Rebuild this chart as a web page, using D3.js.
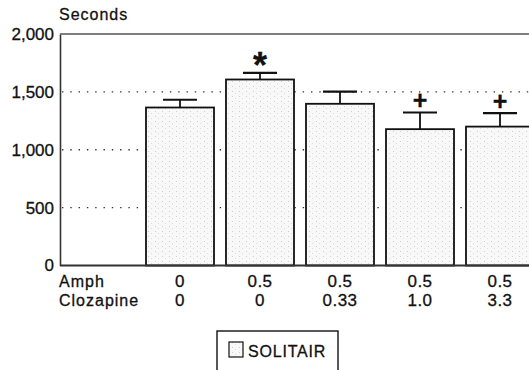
<!DOCTYPE html>
<html>
<head>
<meta charset="utf-8">
<script src="https://cdn.jsdelivr.net/npm/d3@7"></script>
<style>
	body { margin: 0; background: #fff; }
	svg { display: block; font-family: "Liberation Sans", Arial, sans-serif; }
	svg text { stroke: #111; stroke-width: 0.3px; }
</style>
</head>
<body>
<div id="chart"></div>
<script>
// values
const amph = ["0", "0.5", "0.5", "0.5", "0.5"];
const clozapine = ["0", "0", "0.33", "1.0", "3.3"];
const means = [1365, 1607, 1397, 1178, 1200];
const sems = [67, 58, 106, 144, 117];
const marks = ["", "*", "", "+", "+"];
const yTicks = [0, 500, 1000, 1500, 2000];
const seriesName = "SOLITAIR";

const width = 529;
const height = 370;

const svg = d3
	.select("#chart")
	.append("svg")
	.attr("width", width)
	.attr("height", height)
	.attr("viewBox", [0, 0, width, height]);

// light stipple for the bars
const pat = svg
	.append("defs")
	.append("pattern")
	.attr("id", "stipple")
	.attr("patternUnits", "userSpaceOnUse")
	.attr("width", 7)
	.attr("height", 5);
pat.append("rect").attr("width", 7).attr("height", 5).attr("fill", "#f8f8f8");
pat.append("rect").attr("x", 1).attr("y", 1).attr("width", 1).attr("height", 1).attr("fill", "#cfcfcf");
pat.append("rect").attr("x", 4).attr("y", 3).attr("width", 1).attr("height", 1).attr("fill", "#dedede");

const xScale = d3
	.scaleBand()
	.domain(d3.range(means.length + 1))
	.range([60, 540])
	.paddingInner(0.15)
	.paddingOuter(0.075);

const yScale = d3.scaleLinear().domain([0, 2000]).range([265.5, 34]);

// dotted grid
svg
	.append("g")
	.selectAll("line")
	.data(yTicks.filter((d) => d > 0 && d < 2000))
	.join("line")
	.attr("x1", 62)
	.attr("x2", width)
	.attr("y1", (d) => yScale(d))
	.attr("y2", (d) => yScale(d))
	.attr("stroke", "#333")
	.attr("stroke-width", 1.4)
	.attr("stroke-dasharray", "1.4,6.9");

// y axis
const yAxis = svg
	.append("g")
	.attr("transform", "translate(60,0)")
	.call(
		d3
			.axisLeft(yScale)
			.tickValues(yTicks)
			.tickSize(0)
			.tickPadding(6)
			.tickFormat(d3.format(","))
	);
yAxis.select(".domain").attr("stroke", "#333").attr("stroke-width", 1.6);
yAxis
	.selectAll("text")
	.attr("font-size", 17)
	.attr("fill", "#111")
	.attr("font-family", "Liberation Sans, Arial, sans-serif");

// top frame line
svg
	.append("line")
	.attr("x1", 60)
	.attr("x2", width)
	.attr("y1", yScale(2000))
	.attr("y2", yScale(2000))
	.attr("stroke", "#555")
	.attr("stroke-width", 1.6);

// bars
const groups = svg
	.append("g")
	.selectAll("g")
	.data(means)
	.join("g");

groups
	.append("rect")
	.attr("x", (d, i) => xScale(i + 1))
	.attr("y", (d) => yScale(d))
	.attr("width", xScale.bandwidth())
	.attr("height", (d) => yScale(0) - yScale(d))
	.attr("fill", "url(#stipple)")
	.attr("stroke", "#111")
	.attr("stroke-width", 1.8);

// error bars
groups
	.append("line")
	.attr("x1", (d, i) => xScale(i + 1) + xScale.bandwidth() / 2)
	.attr("x2", (d, i) => xScale(i + 1) + xScale.bandwidth() / 2)
	.attr("y1", (d) => yScale(d))
	.attr("y2", (d, i) => yScale(d + sems[i]))
	.attr("stroke", "#111")
	.attr("stroke-width", 1.8);

groups
	.append("line")
	.attr("x1", (d, i) => xScale(i + 1) + xScale.bandwidth() * 0.25)
	.attr("x2", (d, i) => xScale(i + 1) + xScale.bandwidth() * 0.75)
	.attr("y1", (d, i) => yScale(d + sems[i]))
	.attr("y2", (d, i) => yScale(d + sems[i]))
	.attr("stroke", "#111")
	.attr("stroke-width", 2.2);

// significance marks
groups
	.append("text")
	.attr("x", (d, i) => xScale(i + 1) + xScale.bandwidth() / 2)
	.attr("y", (d, i) => yScale(d + sems[i]) + (marks[i] === "*" ? 5 : -3))
	.attr("text-anchor", "middle")
	.attr("font-size", (d, i) => (marks[i] === "*" ? 36 : 25))
	.attr("font-weight", "bold")
	.attr("fill", "#111")
	.text((d, i) => marks[i]);

// baseline
svg
	.append("line")
	.attr("x1", 60)
	.attr("x2", width)
	.attr("y1", yScale(0))
	.attr("y2", yScale(0))
	.attr("stroke", "#333")
	.attr("stroke-width", 1.8);

// axis title
svg
	.append("text")
	.attr("x", 59)
	.attr("y", 20)
	.attr("font-size", 16)
	.attr("letter-spacing", 1)
	.attr("fill", "#111")
	.text("Seconds");

// condition rows under the bars
const rows = [
	{ name: "Amph", values: amph, y: 287 },
	{ name: "Clozapine", values: clozapine, y: 306 },
];
rows.forEach((r) => {
	svg
		.append("text")
		.attr("x", 59)
		.attr("y", r.y)
		.attr("font-size", 16)
		.attr("letter-spacing", 1)
		.attr("fill", "#111")
		.text(r.name);
	svg
		.append("g")
		.selectAll("text")
		.data(r.values)
		.join("text")
		.attr("x", (d, i) => xScale(i + 1) + xScale.bandwidth() / 2)
		.attr("y", r.y)
		.attr("text-anchor", "middle")
		.attr("font-size", 17)
		.attr("letter-spacing", 0.5)
		.attr("fill", "#111")
		.text((d) => d);
});

// legend (box runs off the bottom edge in the source)
const legend = svg.append("g").attr("transform", "translate(217,331)");
legend
	.append("rect")
	.attr("width", 121)
	.attr("height", 45)
	.attr("fill", "none")
	.attr("stroke", "#111")
	.attr("stroke-width", 1.4);
legend
	.append("rect")
	.attr("x", 12)
	.attr("y", 11)
	.attr("width", 14)
	.attr("height", 15)
	.attr("fill", "url(#stipple)")
	.attr("stroke", "#111")
	.attr("stroke-width", 1.2);
legend
	.append("text")
	.attr("x", 31)
	.attr("y", 26)
	.attr("font-size", 16)
	.attr("letter-spacing", 0.8)
	.attr("fill", "#111")
	.text(seriesName);
</script>
</body>
</html>
